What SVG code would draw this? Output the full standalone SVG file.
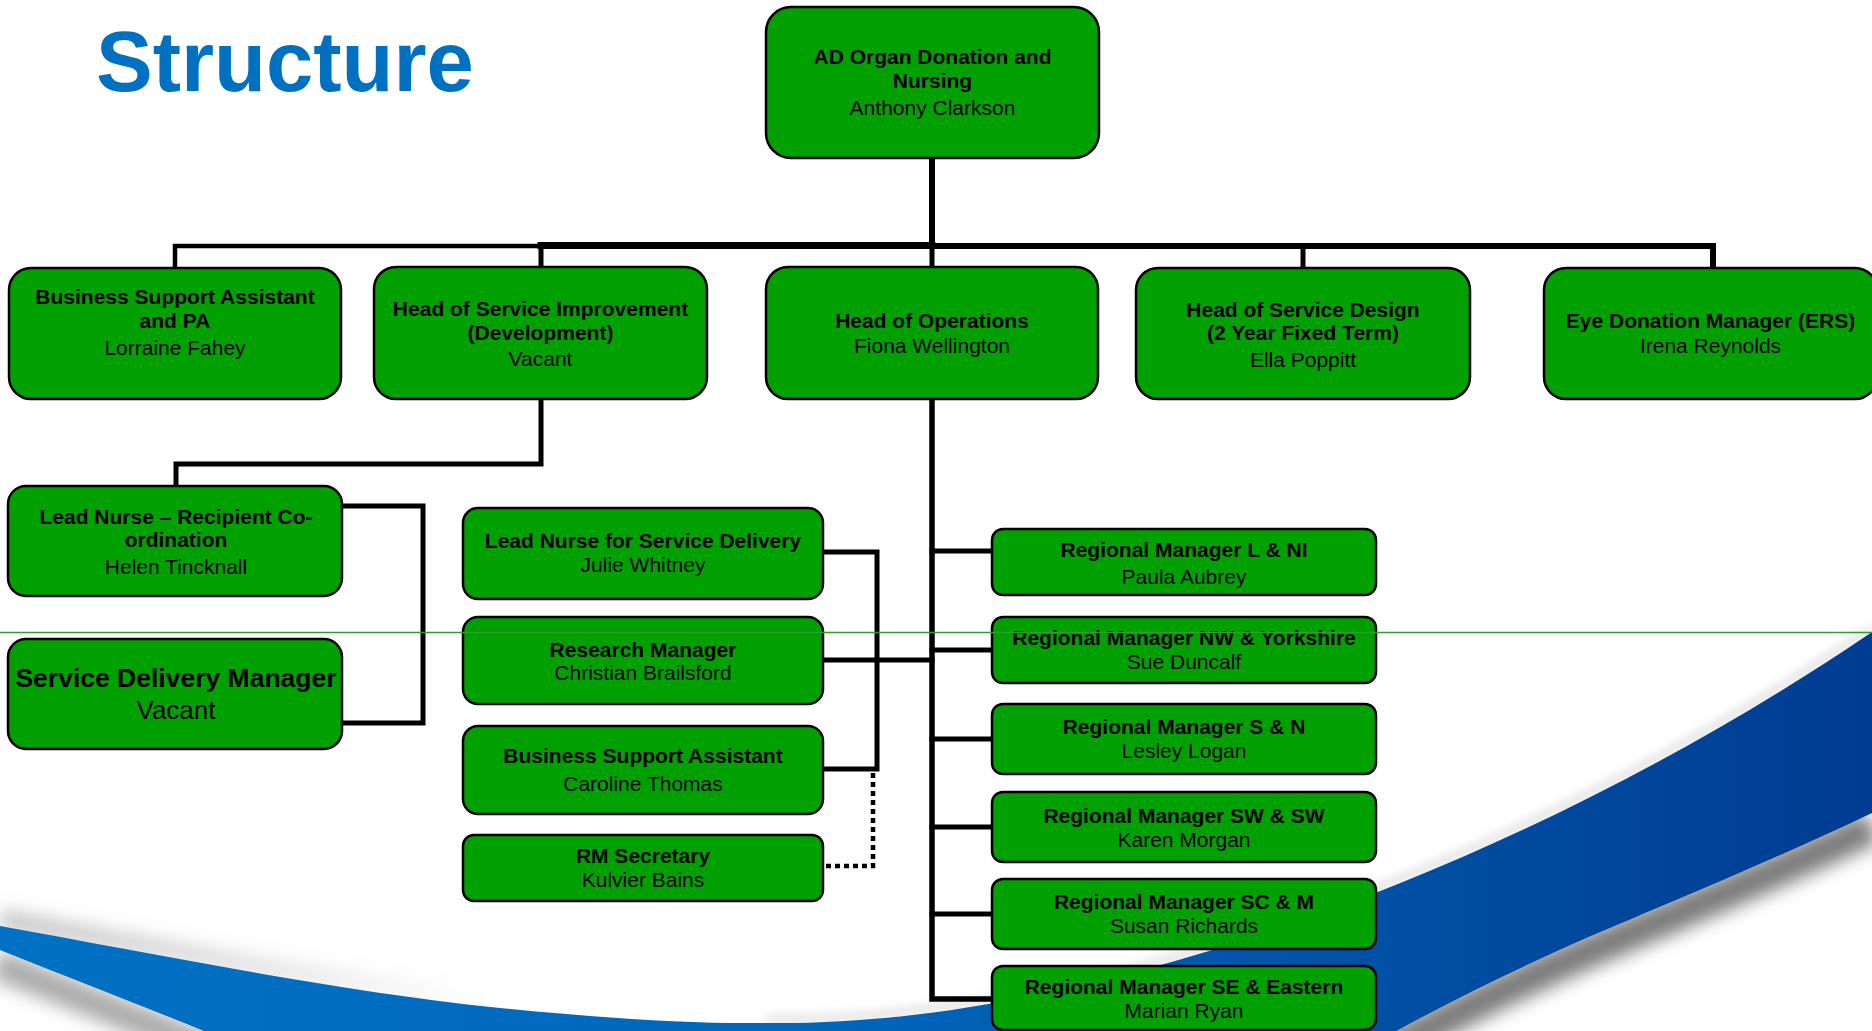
<svg xmlns="http://www.w3.org/2000/svg" width="1872" height="1031" viewBox="0 0 1872 1031">
  <defs>
    <style>
      .box { fill:#00a000; stroke:#000; stroke-width:2.5; }
      .t { font-family:"Liberation Sans", Arial, sans-serif; font-size:21px; text-anchor:middle; fill:#000; }
      .b { font-weight:bold; }
      .conn { fill:none; stroke:#000; stroke-width:5; stroke-linejoin:miter; stroke-linecap:square; }
      .dot { fill:none; stroke:#000; stroke-width:4.5; stroke-dasharray:5 4; }
      .title { font-family:"Liberation Sans", Arial, sans-serif; font-weight:bold; font-size:85px; fill:#0070c0; }
    </style>
    <linearGradient id="blueGrad" gradientUnits="userSpaceOnUse" x1="0" y1="0" x2="1872" y2="0">
      <stop offset="0" stop-color="#0071c4"/>
      <stop offset="0.45" stop-color="#0066ba"/>
      <stop offset="0.75" stop-color="#004fa4"/>
      <stop offset="1" stop-color="#003c92"/>
    </linearGradient>
    <linearGradient id="fadeGrad" gradientUnits="userSpaceOnUse" x1="0" y1="0" x2="480" y2="0">
      <stop offset="0" stop-color="#888" stop-opacity="0.55"/>
      <stop offset="1" stop-color="#888" stop-opacity="0"/>
    </linearGradient>
    <filter id="blur" x="-10%" y="-50%" width="120%" height="200%">
      <feGaussianBlur stdDeviation="9"/>
    </filter>
    <filter id="blurS" x="-10%" y="-50%" width="120%" height="200%">
      <feGaussianBlur stdDeviation="5"/>
    </filter>
  </defs>

  <rect x="0" y="0" width="1872" height="1031" fill="#fff"/>

  <!-- background swoosh -->
  <g id="swoosh">
    <path d="M0,926 C150,953 330,990 500,1008" fill="none" stroke="url(#fadeGrad)" stroke-width="18" transform="translate(0,-7)" filter="url(#blur)"/>
    <path d="M765,1023 C1100,1028 1540,858 1872,632" fill="none" stroke="#aaa" stroke-width="8" opacity="0.35" transform="translate(0,-4)" filter="url(#blurS)"/>
    <path d="M1872,813 C1790,852 1700,890 1629,920 C1560,948 1460,995 1380,1040" fill="none" stroke="#444" stroke-width="34" opacity="0.7" transform="translate(0,14)" filter="url(#blur)"/>
    <path d="M0,950 C70,978 140,1005 204,1031 L220,1050" fill="none" stroke="#666" stroke-width="30" opacity="0.55" transform="translate(-4,14)" filter="url(#blur)"/>
    <path d="M0,926 C150,953 330,990 500,1008 C600,1018 690,1024 765,1023 C1100,1028 1540,858 1872,632 L1872,813 C1790,852 1700,890 1629,920 C1560,948 1460,995 1380,1040 L210,1040 L204,1031 C140,1005 70,978 0,950 Z" fill="url(#blueGrad)"/>
  </g>

  <text class="title" x="96" y="91">Structure</text>

  <!-- connectors -->
  <g id="connectors">
    <path class="conn" d="M932,158 V246" style="stroke-width:6"/>
    <path class="conn" d="M175,269 V246 H541" style="stroke-width:4.5"/>
    <path class="conn" d="M541,245.5 H932" style="stroke-width:7"/>
    <path class="conn" d="M932,246 H1713 V268" style="stroke-width:6"/>
    <path class="conn" d="M541,246 V267"/>
    <path class="conn" d="M932,246 V267"/>
    <path class="conn" d="M1303,246 V268"/>
    <path class="conn" d="M541,399 V464 H176 V486"/>
    <path class="conn" d="M342,506 H423 V723 H342"/>
    <path class="conn" d="M823,552 H877 V769 H823"/>
    <path class="conn" d="M823,660 H932"/>
    <path class="conn" d="M932,399 V999 H992" style="stroke-width:5.5"/>
    <path class="conn" d="M932,551 H992"/>
    <path class="conn" d="M932,650 H992"/>
    <path class="conn" d="M932,739 H992"/>
    <path class="conn" d="M932,827 H992"/>
    <path class="conn" d="M932,914 H992"/>
    <path class="dot" d="M873,773 V866 H823"/>
  </g>

  <g id="n-ad">
    <rect class="box" x="766" y="7" width="333" height="151" rx="25"/>
    <text class="t b" x="932.5" y="64">AD Organ Donation and</text>
    <text class="t b" x="932.5" y="88">Nursing</text>
    <text class="t" x="932.5" y="115">Anthony Clarkson</text>
  </g>

  <g id="n-bsa-pa">
    <rect class="box" x="9" y="268" width="332" height="131" rx="22"/>
    <text class="t b" x="175" y="304">Business Support Assistant</text>
    <text class="t b" x="175" y="328">and PA</text>
    <text class="t" x="175" y="355">Lorraine Fahey</text>
  </g>

  <g id="n-hosi">
    <rect class="box" x="374" y="267" width="333" height="132" rx="22"/>
    <text class="t b" x="540.5" y="316">Head of Service Improvement</text>
    <text class="t b" x="540.5" y="340">(Development)</text>
    <text class="t" x="540.5" y="366">Vacant</text>
  </g>

  <g id="n-hoops">
    <rect class="box" x="766" y="267" width="332" height="132" rx="22"/>
    <text class="t b" x="932" y="328">Head of Operations</text>
    <text class="t" x="932" y="353">Fiona Wellington</text>
  </g>

  <g id="n-hosd">
    <rect class="box" x="1136" y="268" width="334" height="131" rx="22"/>
    <text class="t b" x="1303" y="317">Head of Service Design</text>
    <text class="t b" x="1303" y="340">(2 Year Fixed Term)</text>
    <text class="t" x="1303" y="367">Ella Poppitt</text>
  </g>

  <g id="n-eye">
    <rect class="box" x="1544" y="268" width="333" height="131" rx="22"/>
    <text class="t b" x="1710.5" y="328">Eye Donation Manager (ERS)</text>
    <text class="t" x="1710.5" y="353">Irena Reynolds</text>
  </g>

  <g id="n-lnrc">
    <rect class="box" x="8" y="486" width="334" height="110" rx="18"/>
    <text class="t b" x="176" y="524">Lead Nurse – Recipient Co-</text>
    <text class="t b" x="176" y="547">ordination</text>
    <text class="t" x="176" y="574">Helen Tincknall</text>
  </g>

  <g id="n-sdm">
    <rect class="box" x="8" y="639" width="334" height="110" rx="18"/>
    <text class="t b" x="176" y="687" style="font-size:26.5px">Service Delivery Manager</text>
    <text class="t" x="176" y="719" style="font-size:26px">Vacant</text>
  </g>

  <g id="n-lnsd">
    <rect class="box" x="463" y="508" width="360" height="91" rx="15"/>
    <text class="t b" x="643" y="548">Lead Nurse for Service Delivery</text>
    <text class="t" x="643" y="572">Julie Whitney</text>
  </g>

  <g id="n-rm">
    <rect class="box" x="463" y="617" width="360" height="87" rx="15"/>
    <text class="t b" x="643" y="657">Research Manager</text>
    <text class="t" x="643" y="680">Christian Brailsford</text>
  </g>

  <g id="n-bsa">
    <rect class="box" x="463" y="726" width="360" height="88" rx="15"/>
    <text class="t b" x="643" y="763">Business Support Assistant</text>
    <text class="t" x="643" y="791">Caroline Thomas</text>
  </g>

  <g id="n-rms">
    <rect class="box" x="463" y="835" width="360" height="66" rx="11"/>
    <text class="t b" x="643" y="863">RM Secretary</text>
    <text class="t" x="643" y="887">Kulvier Bains</text>
  </g>

  <g id="n-rm-lni">
    <rect class="box" x="992" y="529" width="384" height="66" rx="11"/>
    <text class="t b" x="1184" y="557">Regional Manager L &amp; NI</text>
    <text class="t" x="1184" y="584">Paula Aubrey</text>
  </g>

  <g id="n-rm-nwy">
    <rect class="box" x="992" y="617" width="384" height="66" rx="11"/>
    <text class="t b" x="1184" y="645">Regional Manager NW &amp; Yorkshire</text>
    <text class="t" x="1184" y="669">Sue Duncalf</text>
  </g>

  <g id="n-rm-sn">
    <rect class="box" x="992" y="704" width="384" height="70" rx="11"/>
    <text class="t b" x="1184" y="734">Regional Manager S &amp; N</text>
    <text class="t" x="1184" y="758">Lesley Logan</text>
  </g>

  <g id="n-rm-sw">
    <rect class="box" x="992" y="792" width="384" height="70" rx="11"/>
    <text class="t b" x="1184" y="823">Regional Manager SW &amp; SW</text>
    <text class="t" x="1184" y="847">Karen Morgan</text>
  </g>

  <g id="n-rm-scm">
    <rect class="box" x="992" y="879" width="384" height="70" rx="11"/>
    <text class="t b" x="1184" y="909">Regional Manager SC &amp; M</text>
    <text class="t" x="1184" y="933">Susan Richards</text>
  </g>

  <g id="n-rm-se">
    <rect class="box" x="992" y="966" width="384" height="64" rx="11"/>
    <text class="t b" x="1184" y="994">Regional Manager SE &amp; Eastern</text>
    <text class="t" x="1184" y="1018">Marian Ryan</text>
  </g>

  <line x1="0" y1="632.5" x2="1872" y2="632.5" stroke="#2aa02a" stroke-width="1.5"/>
</svg>
